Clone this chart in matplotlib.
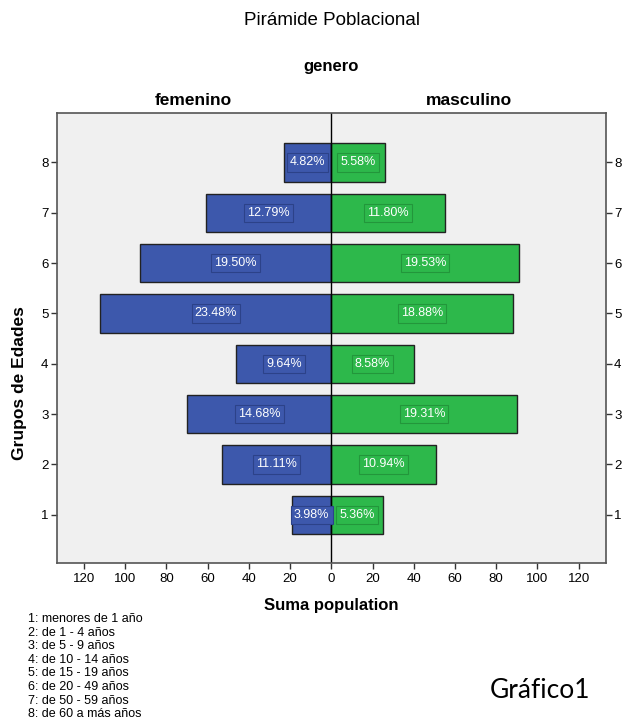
import matplotlib.pyplot as plt
import numpy as np

# datos: grupos de edades 1..8
grupos = [1, 2, 3, 4, 5, 6, 7, 8]
femenino = [19, 53, 70, 46, 112, 93, 61, 23]
masculino = [25, 51, 90, 40, 88, 91, 55, 26]
xticks = [-120, -100, -80, -60, -40, -20, 0, 20, 40, 60, 80, 100, 120]
leyenda = ["1: menores de 1 año", "2: de 1 - 4 años", "3: de 5 - 9 años",
           "4: de 10 - 14 años", "5: de 15 - 19 años", "6: de 20 - 49 años",
           "7: de 50 - 59 años", "8: de 60 a más años"]

plt.rcParams['font.family'] = ['Liberation Sans', 'DejaVu Sans']

azul = '#3D58AC'
verde = '#2DB84B'

fig = plt.figure(figsize=(6.24, 7.21), dpi=100)
ax = fig.add_axes([0.0909, 0.2191, 0.880, 0.6241])
ax.set_facecolor('#F0F0F0')

fem = np.array(femenino)
mas = np.array(masculino)
ax.barh(grupos, -fem, height=0.76, color=azul, edgecolor='#222222', linewidth=1)
ax.barh(grupos, mas, height=0.76, color=verde, edgecolor='#222222', linewidth=1)
ax.axvline(0, color='black', linewidth=1)

# porcentajes dentro de las barras
for g, f, m in zip(grupos, fem, mas):
    ax.text(-f / 2, g, '%.2f%%' % (100 * f / fem.sum()), color='white', fontsize=9,
            ha='center', va='center',
            bbox=dict(boxstyle='square,pad=0.25', facecolor=azul, edgecolor='#2C4289', linewidth=0.8))
    ax.text(m / 2, g, '%.2f%%' % (100 * m / mas.sum()), color='white', fontsize=9,
            ha='center', va='center',
            bbox=dict(boxstyle='square,pad=0.25', facecolor=verde, edgecolor='#23963B', linewidth=0.8))

ax.set_xlim(-133.2, 133.2)
ax.set_ylim(0.04, 8.98)
ax.set_xticks(xticks)
ax.set_xticklabels([str(abs(t)) for t in xticks])
ax.set_yticks(grupos)
ax.tick_params(axis='both', labelsize=9.5, color='#333333', length=4, width=1)
ax.tick_params(axis='y', right=True, labelright=True, pad=2)
for s in ax.spines.values():
    s.set_color('#555555')
    s.set_linewidth(1.2)

ax.set_xlabel('Suma population', fontsize=12, fontweight='bold', labelpad=9)

fig.text(0.532, 0.972, 'Pirámide Poblacional', fontsize=13.5, ha='center', va='center')
fig.text(0.531, 0.908, 'genero', fontsize=12, fontweight='bold', ha='center', va='center')
fig.text(0.309, 0.861, 'femenino', fontsize=12.5, fontweight='bold', ha='center', va='center')
fig.text(0.751, 0.861, 'masculino', fontsize=12.5, fontweight='bold', ha='center', va='center')
fig.text(0.032, 0.469, 'Grupos de Edades', fontsize=12.5, fontweight='bold',
         rotation=90, ha='center', va='center')

for i, t in enumerate(leyenda):
    fig.text(0.045, 1 - (619 + 13.6 * i) / 721, t, fontsize=9, ha='left', va='center')

fig.text(0.866, 1 - 690 / 721, 'Gráfico1', fontsize=19, ha='center', va='center',
         family=['Lato', 'DejaVu Sans'])

fig.savefig('out.png', dpi=100)
